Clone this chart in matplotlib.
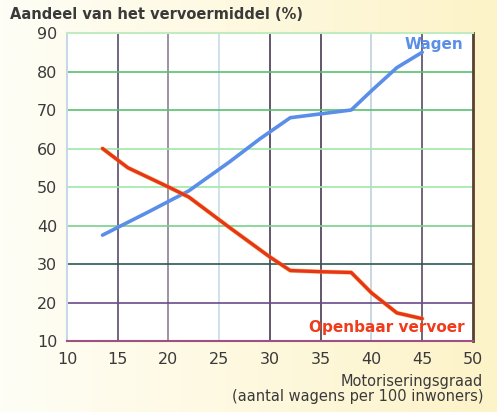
import numpy as np
from matplotlib import pyplot as plt
from matplotlib.colors import LinearSegmentedColormap

# data
wagen_x = [13.5, 15, 18, 22, 26, 29, 32, 35, 38, 40, 42.5, 45]
wagen_y = [37.5, 39.5, 43.5, 49, 56.5, 62.5, 68, 69, 70, 75, 81, 85]
ov_x = [13.5, 16, 18, 20, 22, 26, 30, 32, 35, 38, 40, 42.5, 45]
ov_y = [60, 55, 52.5, 50, 47.4, 39.5, 31.8, 28.3, 28, 27.8, 22.5, 17.3, 15.8]

xticks = [10, 15, 20, 25, 30, 35, 40, 45, 50]
yticks = [10, 20, 30, 40, 50, 60, 70, 80, 90]

vcolors = {15: '#5a4a6a', 20: '#8a8090', 25: '#c8dce8', 30: '#4a3a50',
           35: '#4a3a50', 40: '#c0d0e0', 45: '#5a4a60'}
hcolors = {20: '#6a4a8a', 30: '#2a5a50', 40: '#7ad08a', 50: '#a0e8a8',
           60: '#a0e8a8', 70: '#5ac070', 80: '#5ac070'}

fig = plt.figure(figsize=(4.97, 4.12), dpi=100)

# cream background gradient
bg = fig.add_axes([0, 0, 1, 1], zorder=-5)
grad = np.linspace(0, 1, 256).reshape(1, -1)
cm = LinearSegmentedColormap.from_list('cream', ['#fffef6', '#fdf3c8'])
bg.imshow(grad, aspect='auto', cmap=cm, extent=[0, 1, 0, 1])
bg.axis('off')

ax = fig.add_axes([0.1348, 0.1723, 0.8169, 0.7476])
ax.set_facecolor('white')
ax.set_xlim(10, 50)
ax.set_ylim(10, 90)

for x, c in vcolors.items():
    ax.axvline(x, color=c, lw=1.2, zorder=1)
for y, c in hcolors.items():
    ax.axhline(y, color=c, lw=1.2, zorder=1)

for side, c in [('left', '#c8d8e8'), ('top', '#c0ecc0'), ('right', '#5a4030'), ('bottom', '#a05080')]:
    ax.spines[side].set_color(c)
    ax.spines[side].set_linewidth(1.5)
ax.spines['right'].set_linewidth(2)

ax.plot(wagen_x, wagen_y, color='#5a8ee8', lw=2.6, solid_capstyle='round', zorder=3)
ax.plot(ov_x, ov_y, color='#f0a020', lw=3.2, solid_capstyle='round', zorder=3, alpha=0.6)
ax.plot(ov_x, ov_y, color='#e83418', lw=2.4, solid_capstyle='round', zorder=4)

ax.text(49.0, 87.0, 'Wagen', color='#5a8ee8', fontsize=11, fontweight='bold', ha='right', va='center')
ax.text(49.2, 13.6, 'Openbaar vervoer', color='#f03c1c', fontsize=11, fontweight='bold', ha='right', va='center')

ax.set_xticks(xticks)
ax.set_yticks(yticks)
ax.tick_params(length=0, labelsize=11.5, labelcolor='#3a3a3a')
ax.tick_params(axis='x', pad=8)
ax.tick_params(axis='y', pad=7)

fig.text(0.02, 0.966, 'Aandeel van het vervoermiddel (%)', fontsize=10.5, fontweight='bold',
         color='#3a3a3a', va='center')
fig.text(0.972, 0.055, 'Motoriseringsgraad\n(aantal wagens per 100 inwoners)', fontsize=10.5,
         color='#3a3a3a', ha='right', va='center', linespacing=1.0)

fig.savefig('out.png', dpi=100)
